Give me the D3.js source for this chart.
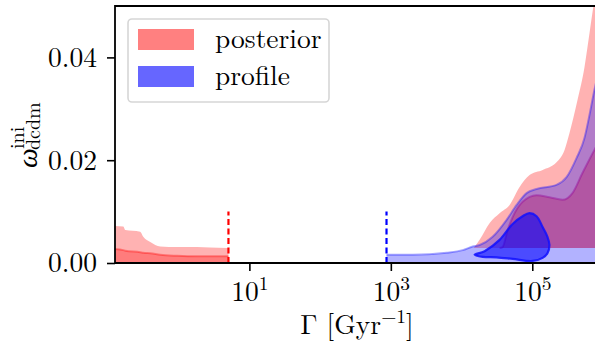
<!DOCTYPE html>
<html>
<head>
<meta charset="utf-8">
<script src="https://cdn.jsdelivr.net/npm/d3@7"></script>
<style>
  html, body { margin: 0; padding: 0; background: #fff; }
  svg { display: block; }
</style>
</head>
<body>
<div id="chart"></div>
<script>
// posterior, low Gamma branch (Gyr^-1) with the 95% / 68% upper bounds
const postLowGamma = [0.127, 0.165, 0.176, 0.286, 0.316, 0.397, 0.55, 0.955, 1.83, 2.79, 4.85, 5.06];
const postLowOuter = [0.0072, 0.0071, 0.0064, 0.0061, 0.0051, 0.0041, 0.0032, 0.0031, 0.0031, 0.0030, 0.0029, 0.0029];
const postLowInner = [0.0027, 0.0025, 0.0024, 0.0021, 0.0020, 0.0019, 0.0016, 0.0014, 0.0013, 0.0013, 0.0013, 0.0013];

// posterior, high Gamma branch
const postHighGamma = [1.49e4, 1.80e4, 2.50e4, 3.45e4, 4.78e4, 6.62e4, 9.16e4, 1.40e5, 2.20e5, 2.86e5, 3.36e5, 4.36e5, 5.47e5, 6.44e5, 7.33e5, 1e6];
const postHighOuter = [0.0029, 0.0045, 0.0078, 0.0097, 0.0113, 0.0148, 0.0171, 0.0181, 0.0196, 0.0220, 0.0253, 0.0317, 0.0381, 0.0447, 0.0500, 0.0590];
const postHighInnerGamma = [3.45e4, 3.80e4, 4.48e4, 5.27e4, 7.29e4, 1.15e5, 1.75e5, 2.68e5, 3.70e5, 5.12e5, 7.57e5, 1e6];
const postHighInner = [0.0029, 0.0031, 0.0064, 0.0089, 0.0119, 0.0132, 0.0128, 0.0123, 0.0136, 0.0175, 0.0220, 0.0249];
const postHighFloor = [0.0029];

// profile likelihood band
const profGamma = [869, 2050, 6170, 1.04e4, 1.44e4, 1.80e4, 2.75e4, 4.34e4, 6.01e4, 8.32e4, 1.15e5, 2.20e5, 3.05e5, 4.22e5, 5.47e5, 6.44e5, 7.57e5, 1e6];
const profUpper = [0.0016, 0.0016, 0.0020, 0.0025, 0.0032, 0.0035, 0.0051, 0.0084, 0.0113, 0.0136, 0.0144, 0.0152, 0.0167, 0.0204, 0.0243, 0.0288, 0.0337, 0.0405];

// profile contour (closed)
const blobGamma = [1.53e4, 2.12e4, 3.45e4, 5.27e4, 7.29e4, 9.16e4, 1.15e5, 1.40e5, 1.64e5, 1.75e5, 1.64e5, 1.40e5, 1.01e5, 5.27e4, 3.13e4, 1.99e4];
const blobOmega = [0.0016, 0.0023, 0.0045, 0.0076, 0.0091, 0.0097, 0.0091, 0.0070, 0.0051, 0.0035, 0.0019, 0.0010, 0.0004, 0.0008, 0.0011, 0.0012];

// dashed cut-off markers
const cutGamma = [5.06, 869];
const cutColors = ['#ff0000', '#0000ff'];
const cutTop = 0.01;

const xTicks = [10, 1e3, 1e5];
const xTickExp = ['1', '3', '5'];
const yTicks = [0, 0.02, 0.04];
const legendLabels = ['posterior', 'profile'];
const legendColors = ['#ff8080', '#6666ff'];

const FONT = '"Latin Modern Roman", "Liberation Serif", serif';
const W = 595, H = 344;
const margin = {top: 6, left: 115, right: -8, bottom: 81};
const width = W - margin.left - margin.right;
const height = H - margin.top - margin.bottom;

const svg = d3.select('#chart').append('svg')
  .attr('width', W)
  .attr('height', H);

svg.append('defs').append('clipPath').attr('id', 'plot-clip')
  .append('rect').attr('width', width).attr('height', height);

const mainG = svg.append('g')
  .attr('transform', `translate(${margin.left},${margin.top})`);

const x = d3.scaleLog().domain([Math.pow(10, -0.9), 1e6]).range([0, width]);
const y = d3.scaleLinear().domain([0, 0.05]).range([height, 0]);

const plot = mainG.append('g').attr('clip-path', 'url(#plot-clip)');

const zip = (xs, ys) => xs.map((g, i) => [g, ys[i]]);

function band(points, low, fill) {
  const area = d3.area()
    .x(d => x(d[0]))
    .y0(y(low))
    .y1(d => y(d[1]))
    .curve(d3.curveMonotoneX);
  plot.append('path').datum(points)
    .attr('d', area)
    .attr('fill', fill)
    .attr('fill-opacity', 0.3);
}
function edge(points, color, opacity) {
  const line = d3.line()
    .x(d => x(d[0]))
    .y(d => y(d[1]))
    .curve(d3.curveMonotoneX);
  plot.append('path').datum(points)
    .attr('d', line)
    .attr('fill', 'none')
    .attr('stroke', color)
    .attr('stroke-opacity', opacity)
    .attr('stroke-width', 2);
}

// posterior (red)
band(zip(postLowGamma, postLowOuter), 0, '#ff0000');
band(zip(postLowGamma, postLowInner), 0, '#ff0000');
edge(zip(postLowGamma, postLowInner), '#ff0000', 0.35);
band(zip(postHighGamma, postHighOuter), postHighFloor[0], '#ff0000');
band(zip(postHighInnerGamma, postHighInner), postHighFloor[0], '#ff0000');
edge(zip(postHighInnerGamma, postHighInner), '#d0006a', 0.4);

// profile (blue)
band(zip(profGamma, profUpper), 0, '#0000ff');
edge(zip(profGamma, profUpper), '#0000ff', 0.35);

plot.append('path')
  .datum(zip(blobGamma, blobOmega))
  .attr('d', d3.line().x(d => x(d[0])).y(d => y(d[1])).curve(d3.curveCatmullRomClosed))
  .attr('fill', '#0000ff')
  .attr('fill-opacity', 0.58)
  .attr('stroke', '#1010ff')
  .attr('stroke-opacity', 0.85)
  .attr('stroke-width', 2.2);

// cut-off lines
plot.selectAll('.cut')
  .data(cutGamma)
  .enter()
  .append('line')
  .attr('class', 'cut')
  .attr('x1', d => x(d)).attr('x2', d => x(d))
  .attr('y1', y(0)).attr('y2', y(cutTop))
  .attr('stroke', (d, k) => cutColors[k])
  .attr('stroke-width', 2.2)
  .attr('stroke-dasharray', '6,3.5');

// axes
const xAxis = d3.axisBottom(x)
  .tickValues(xTicks)
  .tickSize(8)
  .tickSizeOuter(0)
  .tickPadding(10)
  .tickFormat(() => '');
const gx = mainG.append('g')
  .attr('transform', `translate(0,${height})`)
  .call(xAxis);
gx.selectAll('text')
  .attr('font-size', 27.5)
  .attr('fill', '#000')
  .style('font-family', FONT)
  .each(function (d, k) {
    const t = d3.select(this);
    t.append('tspan').text('10');
    t.append('tspan').attr('font-size', 19.5).attr('dy', -11).text(xTickExp[k]);
  });

const yAxis = d3.axisLeft(y)
  .tickValues(yTicks)
  .tickSize(8)
  .tickSizeOuter(0)
  .tickPadding(10)
  .tickFormat(d3.format('.2f'));
const gy = mainG.append('g').call(yAxis);
gy.selectAll('text')
  .attr('font-size', 27.5)
  .attr('fill', '#000')
  .style('font-family', FONT);

[gx, gy].forEach(g => {
  g.selectAll('line').attr('stroke', '#000').attr('stroke-width', 1.6);
  g.select('.domain').remove();
});

// spines (left, top, bottom)
mainG.append('path')
  .attr('d', `M${width},0H0V${height}H${width}`)
  .attr('fill', 'none')
  .attr('stroke', '#000')
  .attr('stroke-width', 1.8);

// axis labels
const xl = svg.append('text')
  .attr('x', 357)
  .attr('y', 334)
  .attr('text-anchor', 'middle')
  .attr('font-size', 27.5)
  .style('font-family', FONT);
xl.append('tspan').text('Γ [Gyr');
xl.append('tspan').attr('font-size', 19.5).attr('dy', -11).text('−1');
xl.append('tspan').attr('dy', 11).text(']');

const yl = svg.append('g').attr('transform', 'translate(0,168) rotate(-90)');
yl.append('text').attr('x', 0).attr('y', 37)
  .attr('font-size', 28).attr('font-style', 'italic')
  .style('font-family', FONT).text('ω');
yl.append('text').attr('x', 18).attr('y', 40)
  .attr('font-size', 20)
  .style('font-family', FONT).text('dcdm');
yl.append('text').attr('x', 19).attr('y', 24)
  .attr('font-size', 20)
  .style('font-family', FONT).text('ini');

// legend
const legend = svg.append('g');
legend.append('rect')
  .attr('x', 128).attr('y', 19)
  .attr('width', 201).attr('height', 83)
  .attr('rx', 4)
  .attr('fill', '#fff').attr('fill-opacity', 0.8)
  .attr('stroke', '#d6d6d6').attr('stroke-width', 1.6);
const item = legend.selectAll('.item')
  .data(legendLabels)
  .enter()
  .append('g')
  .attr('class', 'item')
  .attr('transform', (d, k) => `translate(138,${29 + k * 37})`);
item.append('rect')
  .attr('width', 56).attr('height', 21)
  .attr('fill', (d, k) => legendColors[k]);
item.append('text')
  .attr('x', 77).attr('y', 19)
  .attr('font-size', 27.5)
  .style('font-family', FONT)
  .text(d => d);
</script>
</body>
</html>
